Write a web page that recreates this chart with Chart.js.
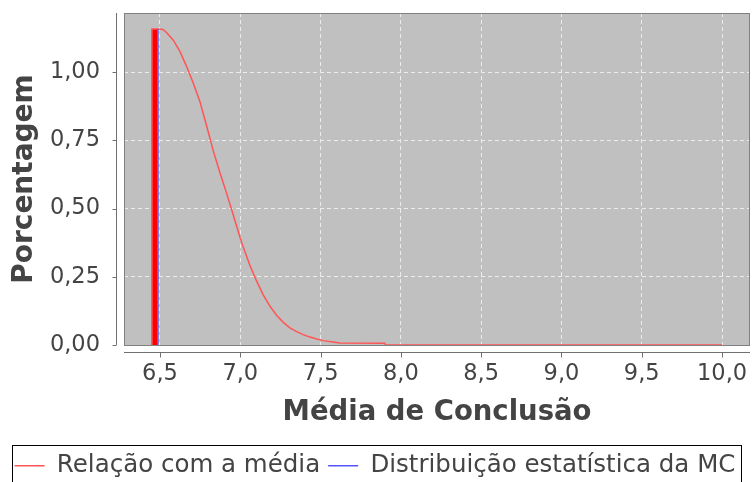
<!DOCTYPE html>
<html>
<head>
<meta charset="utf-8">
<script src="https://cdn.jsdelivr.net/npm/chart.js@4"></script>
<style>
  html, body { margin: 0; padding: 0; background: #fff; }
  #wrap { width: 752px; height: 482px; }
</style>
</head>
<body>
<div id="wrap"><canvas id="myChart" width="752" height="482"></canvas></div>
<script>
// Relação com a média (curve)
const curveX = [6.450, 6.450, 6.480, 6.519, 6.542, 6.583, 6.625, 6.666, 6.707, 6.749, 6.791, 6.811, 6.832, 6.874, 6.915, 6.956, 6.998, 7.019, 7.060, 7.102, 7.143, 7.185, 7.227, 7.268, 7.309, 7.351, 7.392, 7.434, 7.476, 7.517, 7.577, 7.620, 7.900, 7.905, 10.0];
const curveY = [0, 1.159, 1.159, 1.157, 1.145, 1.118, 1.076, 1.021, 0.961, 0.892, 0.802, 0.758, 0.712, 0.631, 0.556, 0.478, 0.395, 0.358, 0.292, 0.234, 0.184, 0.142, 0.108, 0.083, 0.063, 0.049, 0.038, 0.029, 0.022, 0.016, 0.011, 0.007, 0.006, 0, 0];
// overlapping red traces at the start
const barX = [6.466, 6.466];
const barY = [0, 1.159];
// Distribuição estatística da MC
const blueX = [6.487, 6.487];
const blueY = [0, 1.159];

const xTicks = [6.5, 7.0, 7.5, 8.0, 8.5, 9.0, 9.5, 10.0];
const yTicks = [0, 0.25, 0.5, 0.75, 1.0];

const toPoints = (xs, ys) => xs.map((x, i) => ({ x: x, y: ys[i] }));
const fmt = (v, d) => v.toFixed(d).replace('.', ',');

const FONT = 'DejaVu Sans';
const TEXT = '#444444';
const PLOT_BOTTOM = 345;

// plot background, border, offset axis lines and legend frame
const jfreePlugin = {
    id: 'jfree',
    beforeDraw(chart) {
        const { ctx, chartArea: a } = chart;
        ctx.save();
        ctx.fillStyle = '#c0c0c0';
        ctx.fillRect(a.left, a.top, a.right - a.left, a.bottom - a.top);
        ctx.restore();
    },
    afterDatasetsDraw(chart) {
        const { ctx, chartArea: a, scales } = chart;
        ctx.save();
        ctx.strokeStyle = '#808080';
        ctx.lineWidth = 1;
        ctx.strokeRect(a.left + 0.5, a.top + 0.5, a.right - a.left - 1, a.bottom - a.top);

        ctx.strokeStyle = '#707070';
        // y axis line
        const ax = a.left - 7.5;
        ctx.beginPath();
        ctx.moveTo(ax, a.top);
        ctx.lineTo(ax, a.bottom);
        yTicks.forEach(v => {
            const py = Math.round(scales.y.getPixelForValue(v)) + 0.5;
            ctx.moveTo(ax - 4, py);
            ctx.lineTo(ax, py);
        });
        // x axis line
        const ay = a.bottom + 7.5;
        ctx.moveTo(a.left, ay);
        ctx.lineTo(a.right, ay);
        xTicks.forEach(v => {
            const px = Math.round(scales.x.getPixelForValue(v)) + 0.5;
            ctx.moveTo(px, ay);
            ctx.lineTo(px, ay + 5);
        });
        ctx.stroke();

        // legend frame
        const boxes = chart.legend.legendHitBoxes;
        if (boxes && boxes.length) {
            const last = boxes[boxes.length - 1];
            const l = boxes[0].left - 3;
            const r = last.left + last.width + 5;
            const cy = boxes[0].top + boxes[0].height / 2;
            ctx.strokeStyle = '#000';
            ctx.lineWidth = 1;
            ctx.strokeRect(Math.round(l) + 0.5, Math.round(cy - 21) + 0.5, Math.round(r - l), 37);
        }
        ctx.restore();
    }
};

const ctx = document.getElementById('myChart').getContext('2d');
const myChart = new Chart(ctx, {
    type: 'line',
    data: {
        datasets: [{
            label: 'Relação com a média',
            data: toPoints(curveX, curveY),
            borderColor: '#ff5555',
            backgroundColor: '#ff5555',
            borderWidth: 1.5,
            order: 1
        }, {
            label: 'Distribuição estatística da MC',
            data: toPoints(blueX, blueY),
            borderColor: '#5555ff',
            backgroundColor: '#5555ff',
            borderWidth: 1.5,
            order: 0
        }, {
            label: 'bar',
            data: toPoints(barX, barY),
            borderColor: '#ff0000',
            borderWidth: 5.6,
            order: 2
        }]
    },
    options: {
        responsive: false,
        animation: false,
        elements: { point: { radius: 0 }, line: { tension: 0 } },
        layout: { padding: { left: 0, right: 2, top: 13, bottom: -6 } },
        plugins: {
            tooltip: { enabled: false },
            legend: {
                position: 'bottom',
                labels: {
                    filter: item => item.text !== 'bar',
                    sort: (a, b) => a.datasetIndex - b.datasetIndex,
                    usePointStyle: true,
                    pointStyle: 'line',
                    pointStyleWidth: 30,
                    color: TEXT,
                    padding: 8,
                    font: { family: FONT, size: 24.5 }
                }
            }
        },
        scales: {
            x: {
                type: 'linear',
                min: 6.276,
                max: 10.174,
                afterBuildTicks: s => { s.ticks = xTicks.map(v => ({ value: v })); },
                afterFit: s => {
                    s.height = 482 + 6 - PLOT_BOTTOM - s.chart.legend.height;
                    s.paddingLeft = 0;
                    s.paddingRight = 0;
                },
                border: { display: false, dash: [4, 3] },
                grid: {
                    color: '#ececec',
                    lineWidth: 1,
                    drawTicks: false
                },
                ticks: {
                    color: TEXT,
                    padding: 16,
                    font: { family: FONT, size: 22.5 },
                    callback: v => fmt(v, 1)
                },
                title: {
                    display: true,
                    text: 'Média de Conclusão',
                    color: TEXT,
                    font: { family: FONT, size: 27.5, weight: 'bold' },
                    padding: { top: 4, bottom: 16 }
                }
            },
            y: {
                type: 'linear',
                min: 0,
                max: 1.2175,
                afterBuildTicks: s => { s.ticks = yTicks.map(v => ({ value: v })); },
                afterFit: s => {
                    s.width = 124;
                    s.paddingTop = 0;
                    s.paddingBottom = 0;
                },
                border: { display: false, dash: [4, 3] },
                grid: {
                    color: '#ececec',
                    lineWidth: 1,
                    drawTicks: false
                },
                ticks: {
                    color: TEXT,
                    padding: 24,
                    font: { family: FONT, size: 22.5 },
                    callback: v => fmt(v, 2)
                },
                title: {
                    display: true,
                    text: 'Porcentagem',
                    color: TEXT,
                    font: { family: FONT, size: 28, weight: 'bold' },
                    padding: { top: 8, bottom: 0 }
                }
            }
        }
    },
    plugins: [jfreePlugin]
});
</script>
</body>
</html>
